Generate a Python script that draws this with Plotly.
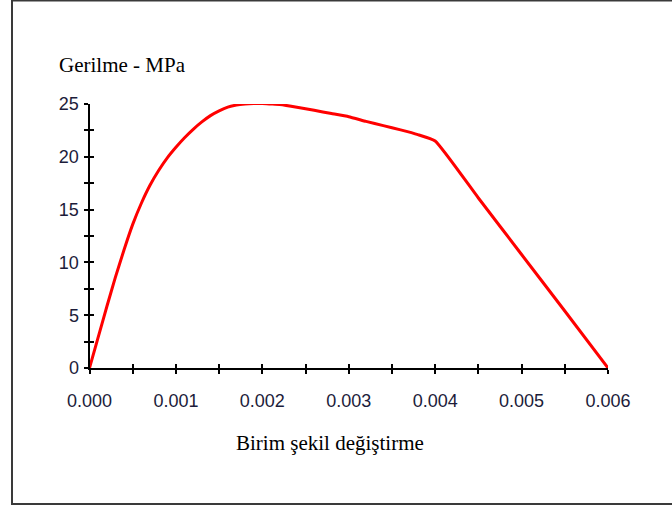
import plotly.graph_objects as go

strain = [0, 0.0001, 0.0002, 0.0003, 0.0004, 0.0005, 0.0006, 0.0007, 0.0008, 0.0009,
          0.0010, 0.0011, 0.0012, 0.0013, 0.0014, 0.0015, 0.0016, 0.0017, 0.0018, 0.0019,
          0.0020, 0.0021, 0.0022, 0.0024, 0.0026, 0.0028, 0.0030, 0.0032, 0.0034, 0.0036,
          0.0038, 0.0040, 0.0045, 0.0050, 0.0055, 0.0060]
stress = [0, 2.9, 5.8, 8.6, 11.2, 13.6, 15.6, 17.3, 18.7, 19.9,
          20.9, 21.8, 22.6, 23.3, 23.9, 24.35, 24.7, 24.9, 25.0, 25.05,
          25.05, 25.0, 24.95, 24.7, 24.4, 24.1, 23.8, 23.35, 22.95, 22.55,
          22.1, 21.5, 16.1, 10.75, 5.4, 0]

x_tickvals = [0, 0.001, 0.002, 0.003, 0.004, 0.005, 0.006]
x_ticktext = ["0.000", "0.001", "0.002", "0.003", "0.004", "0.005", "0.006"]
y_tickvals = [0, 5, 10, 15, 20, 25]
y_ticktext = ["0", "5", "10", "15", "20", "25"]

x_title = "Birim şekil değiştirme"
y_title = "Gerilme - MPa"

W, H = 672, 506
def px(x):
    return x / W
def py(y):
    return 1 - y / H

xdom = [px(89.5), px(608)]
ydom = [py(368), py(104)]

tickfont = dict(family="Liberation Sans", size=18, color="#1c1c3a")
minor_x = [0.0005, 0.0015, 0.0025, 0.0035, 0.0045, 0.0055]
minor_y = [2.5, 7.5, 12.5, 17.5, 22.5]

fig = go.Figure()
fig.add_trace(go.Scatter(x=strain, y=stress, mode="lines",
                         line=dict(color="#ff0000", width=3, shape="spline", smoothing=0.4),
                         showlegend=False, hoverinfo="skip"))

common_x = dict(domain=xdom, range=[0, 0.006], showgrid=False, zeroline=False)
common_y = dict(domain=ydom, range=[0, 25], showgrid=False, zeroline=False)

fig.update_layout(
    width=W, height=H,
    margin=dict(l=0, r=0, t=0, b=0, autoexpand=False),
    paper_bgcolor="white", plot_bgcolor="white",
    xaxis=dict(**common_x, anchor="y", showline=True, linecolor="black", linewidth=2,
               tickmode="array", tickvals=x_tickvals, ticktext=x_ticktext,
               ticks="outside", ticklen=4, tickwidth=2, tickcolor="black",
               minor=dict(tickvals=minor_x, ticks="outside", ticklen=4, tickwidth=2,
                          tickcolor="black"),
               tickfont=tickfont, ticklabelstandoff=11),
    xaxis2=dict(**common_x, anchor="y", overlaying="x", side="bottom", showline=False,
                tickmode="array", tickvals=x_tickvals, showticklabels=False,
                ticks="inside", ticklen=4, tickwidth=2, tickcolor="black",
                minor=dict(tickvals=minor_x, ticks="inside", ticklen=4, tickwidth=2,
                           tickcolor="black")),
    yaxis=dict(**common_y, anchor="x", showline=True, linecolor="black", linewidth=2,
               tickmode="array", tickvals=y_tickvals, ticktext=y_ticktext,
               ticks="outside", ticklen=4, tickwidth=2, tickcolor="black",
               minor=dict(tickvals=minor_y, ticks="outside", ticklen=4, tickwidth=2,
                          tickcolor="black"),
               tickfont=tickfont, ticklabelstandoff=1),
    yaxis2=dict(**common_y, anchor="x", overlaying="y", side="left", showline=False,
                tickmode="array", tickvals=y_tickvals, showticklabels=False,
                ticks="inside", ticklen=4, tickwidth=2, tickcolor="black",
                minor=dict(tickvals=minor_y, ticks="inside", ticklen=4, tickwidth=2,
                           tickcolor="black")),
    shapes=[dict(type="rect", xref="paper", yref="paper",
                 x0=px(12), x1=px(690), y0=py(504), y1=py(0.5),
                 line=dict(color="#3a3a3a", width=2), fillcolor="rgba(0,0,0,0)",
                 layer="below")],
    annotations=[
        dict(text=y_title, xref="paper", yref="paper", x=px(57), y=py(65),
             xanchor="left", yanchor="middle", showarrow=False,
             font=dict(family="Liberation Serif", size=21, color="black")),
        dict(text=x_title, xref="paper", yref="paper", x=px(330), y=py(443),
             xanchor="center", yanchor="middle", showarrow=False,
             font=dict(family="Liberation Serif", size=21, color="black")),
    ],
)
# invisible helper trace so the overlay axes (inner tick halves) render
fig.add_trace(go.Scatter(x=[0], y=[0], xaxis="x2", yaxis="y2", mode="markers",
                         marker=dict(opacity=0), showlegend=False, hoverinfo="skip"))

fig.write_html("out.html")
